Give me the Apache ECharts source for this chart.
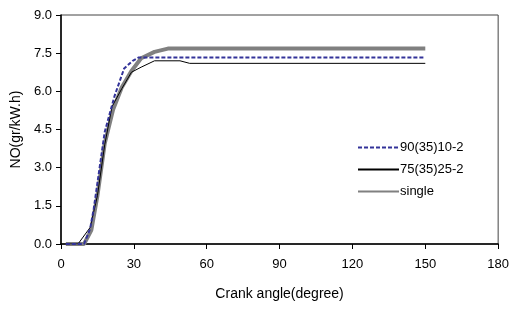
<!DOCTYPE html>
<html>
<head>
<meta charset="utf-8">
<script src="https://cdn.jsdelivr.net/npm/echarts@6/dist/echarts.min.js"></script>
<style>
  html, body { margin: 0; padding: 0; background: #fff; }
  #chart { width: 512px; height: 309px; }
</style>
</head>
<body>
<div id="chart"></div>
<script>
// crank angle / NO points
const single = [[2,0],[9.5,0],[12.5,0.55],[15,1.9],[18,3.95],[21.5,5.3],[25,6.15],[29,6.8],[33,7.3],[38.5,7.55],[44,7.68],[150,7.68]];
const s90_35_10 = [[2,0],[9.5,0],[12,0.6],[13.5,1.4],[18,4.4],[22,5.8],[26,6.9],[29.5,7.2],[32,7.33],[150,7.33]];
const s75_35_25 = [[2,0],[7,0],[12,0.65],[15,1.9],[18,3.9],[21,5.4],[25,6.1],[29,6.75],[33,6.95],[38.5,7.2],[49,7.2],[53,7.1],[150,7.1]];
const names = ['90(35)10-2', '75(35)25-2', 'single'];

const font = 'Liberation Sans, Arial, sans-serif';
const myChart = echarts.init(document.getElementById('chart'));

const option = {
  animation: false,
  grid: {
    left: 61, right: 12, top: 15, bottom: 65,
    show: true, borderColor: '#444', borderWidth: 1
  },
  legend: {
    orient: 'vertical',
    left: 352, top: 136,
    itemWidth: 41, itemHeight: 10, itemGap: 9,
    itemStyle: { opacity: 0 },
    textStyle: { fontFamily: font, fontSize: 13, color: '#000', padding: [0, 0, 0, -4] },
    data: names
  },
  xAxis: {
    type: 'value', min: 0, max: 180, interval: 30,
    name: 'Crank angle(degree)', nameLocation: 'middle', nameGap: 43,
    nameTextStyle: { fontFamily: font, fontSize: 14, color: '#000' },
    axisLine: { show: true, onZero: false, lineStyle: { color: '#000', width: 1.5 } },
    axisTick: { show: true, length: 5, lineStyle: { color: '#000' } },
    axisLabel: { fontFamily: font, fontSize: 13, color: '#000', margin: 14 },
    splitLine: { show: false }
  },
  yAxis: {
    type: 'value', min: 0, max: 9, interval: 1.5,
    name: 'NO(gr/kW.h)', nameLocation: 'middle', nameGap: 38,
    nameTextStyle: { fontFamily: font, fontSize: 14, color: '#000' },
    axisLine: { show: true, lineStyle: { color: '#000', width: 1.5 } },
    axisTick: { show: true, length: 5, lineStyle: { color: '#000' } },
    axisLabel: { fontFamily: font, fontSize: 13, color: '#000', margin: 9,
      formatter: v => v.toFixed(1) },
    splitLine: { show: false }
  },
  series: [
    {
      name: names[2], type: 'line', data: single, symbol: 'none', z: 1,
      lineStyle: { color: '#808080', width: 4 }, itemStyle: { color: '#808080' }
    },
    {
      name: names[0], type: 'line', data: s90_35_10, symbol: 'none', z: 3,
      lineStyle: { color: '#333399', width: 2, type: [4, 2] }, itemStyle: { color: '#333399' }
    },
    {
      name: names[1], type: 'line', data: s75_35_25, symbol: 'none', z: 2,
      lineStyle: { color: '#000', width: 1 }, itemStyle: { color: '#000' }
    }
  ]
};
myChart.setOption(option);
</script>
</body>
</html>
